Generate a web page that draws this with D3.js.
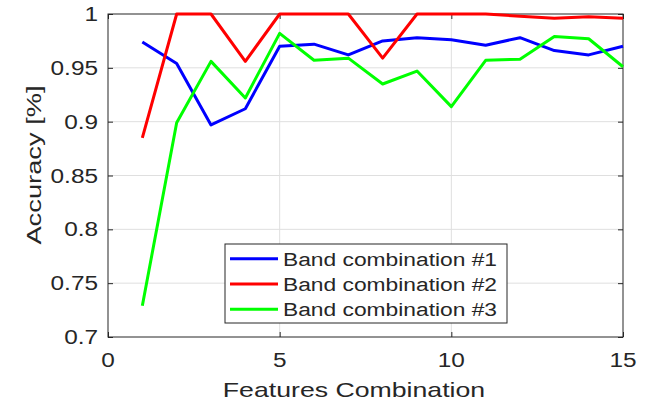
<!DOCTYPE html>
<html>
<head>
<meta charset="utf-8">
<script src="https://cdn.jsdelivr.net/npm/d3@7"></script>
<style>
body { margin: 0; background: #fff; }
text { font-family: "Liberation Sans", Arial, sans-serif; fill: #262626; }
.grid line { stroke: #dfdfdf; stroke-width: 1; }
.series { fill: none; stroke-width: 3; stroke-linejoin: round; }
</style>
</head>
<body>
<svg width="651" height="404"></svg>
<script>
// feature combination index
const combos = [1, 2, 3, 4, 5, 6, 7, 8, 9, 10, 11, 12, 13, 14, 15]

const band1 = [0.974, 0.954, 0.897, 0.912, 0.970, 0.972, 0.962, 0.975, 0.978, 0.976, 0.971, 0.978, 0.966, 0.962, 0.970]
const band2 = [0.885, 1.000, 1.000, 0.956, 1.000, 1.000, 1.000, 0.959, 1.000, 1.000, 1.000, 0.998, 0.996, 0.9975, 0.996]
const band3 = [0.729, 0.899, 0.956, 0.922, 0.982, 0.957, 0.959, 0.935, 0.947, 0.914, 0.957, 0.958, 0.979, 0.977, 0.951]

const seriesNames = ["Band combination #1", "Band combination #2", "Band combination #3"]
const seriesColors = ["#0000ff", "#ff0000", "#00ff00"]

const xTicks = [0, 5, 10, 15]
const yTicks = [0.7, 0.75, 0.8, 0.85, 0.9, 0.95, 1]

const svg = d3.select("svg")

const pLeft = 108, pRight = 623, pTop = 14, pBottom = 337
const stretch = 1.25

const x = d3.scaleLinear().domain([0, 15]).range([pLeft, pRight])
const y = d3.scaleLinear().domain([0.7, 1]).range([pBottom, pTop])

// grid
const grid = svg.append("g").attr("class", "grid")
grid.selectAll("line.gx")
    .data(xTicks.slice(1, -1))
    .enter()
    .append("line")
    .attr("x1", d => x(d)).attr("x2", d => x(d))
    .attr("y1", pTop).attr("y2", pBottom)
grid.selectAll("line.gy")
    .data(yTicks.slice(1, -1))
    .enter()
    .append("line")
    .attr("x1", pLeft).attr("x2", pRight)
    .attr("y1", d => y(d)).attr("y2", d => y(d))

// axes (MATLAB style: ticks inside, box all round)
const tickLen = 5
const axisStyle = g => {
    g.select(".domain").remove()
    g.selectAll(".tick line").attr("stroke", "#262626")
}

svg.append("g")
    .attr("transform", `translate(0,${pBottom})`)
    .call(d3.axisBottom(x).tickValues(xTicks).tickSize(-tickLen).tickFormat(""))
    .call(axisStyle)
svg.append("g")
    .attr("transform", `translate(0,${pTop})`)
    .call(d3.axisTop(x).tickValues(xTicks).tickSize(-tickLen).tickFormat(""))
    .call(axisStyle)
svg.append("g")
    .attr("transform", `translate(${pLeft},0)`)
    .call(d3.axisLeft(y).tickValues(yTicks).tickSize(-tickLen).tickFormat(""))
    .call(axisStyle)
svg.append("g")
    .attr("transform", `translate(${pRight},0)`)
    .call(d3.axisRight(y).tickValues(yTicks).tickSize(-tickLen).tickFormat(""))
    .call(axisStyle)

// tick labels (stretched horizontally like the source image)
svg.selectAll("text.xtick")
    .data(xTicks)
    .enter()
    .append("text")
    .attr("class", "xtick")
    .attr("transform", d => `translate(${x(d)},${pBottom + 30}) scale(${stretch},1)`)
    .attr("text-anchor", "middle")
    .style("font-size", "19.5px")
    .text(d => d)

svg.selectAll("text.ytick")
    .data(yTicks)
    .enter()
    .append("text")
    .attr("class", "ytick")
    .attr("transform", d => `translate(${pLeft - 10},${y(d) + 7}) scale(${stretch},1)`)
    .attr("text-anchor", "end")
    .style("font-size", "19.5px")
    .text(d => d)

// axis titles
svg.append("text")
    .attr("transform", `translate(354,397) scale(1.27,1)`)
    .attr("text-anchor", "middle")
    .style("font-size", "21px")
    .text("Features Combination")

svg.append("text")
    .attr("transform", `translate(41,165) rotate(-90) scale(1.3,1)`)
    .attr("text-anchor", "middle")
    .style("font-size", "21px")
    .text("Accuracy [%]")

// box
svg.append("rect")
    .attr("x", pLeft).attr("y", pTop)
    .attr("width", pRight - pLeft).attr("height", pBottom - pTop)
    .attr("fill", "none")
    .attr("stroke", "#262626")
    .attr("stroke-width", 1)

// lines
const line = d3.line()
    .x((d, i) => x(combos[i]))
    .y(d => y(d))

const allSeries = [band1, band2, band3]

svg.selectAll("path.series")
    .data(allSeries)
    .enter()
    .append("path")
    .attr("class", "series")
    .attr("d", line)
    .attr("stroke", (d, i) => seriesColors[i])

// legend
const lx = 225, ly = 244, lw = 282, lh = 79, rowH = 25.3
const legend = svg.append("g")
legend.append("rect")
    .attr("x", lx).attr("y", ly)
    .attr("width", lw).attr("height", lh)
    .attr("fill", "#fff")
    .attr("stroke", "#262626")
    .attr("stroke-width", 1)

const rows = legend.selectAll("g.row")
    .data(seriesNames)
    .enter()
    .append("g")
    .attr("class", "row")
    .attr("transform", (d, i) => `translate(0,${ly + 14.7 + i * rowH})`)

rows.append("line")
    .attr("x1", lx + 5).attr("x2", lx + 53)
    .attr("y1", 0).attr("y2", 0)
    .attr("stroke", (d, i) => seriesColors[i])
    .attr("stroke-width", 3)

rows.append("text")
    .attr("transform", `translate(${lx + 58},7) scale(1.2,1)`)
    .style("font-size", "19px")
    .text(d => d)
</script>
</body>
</html>
